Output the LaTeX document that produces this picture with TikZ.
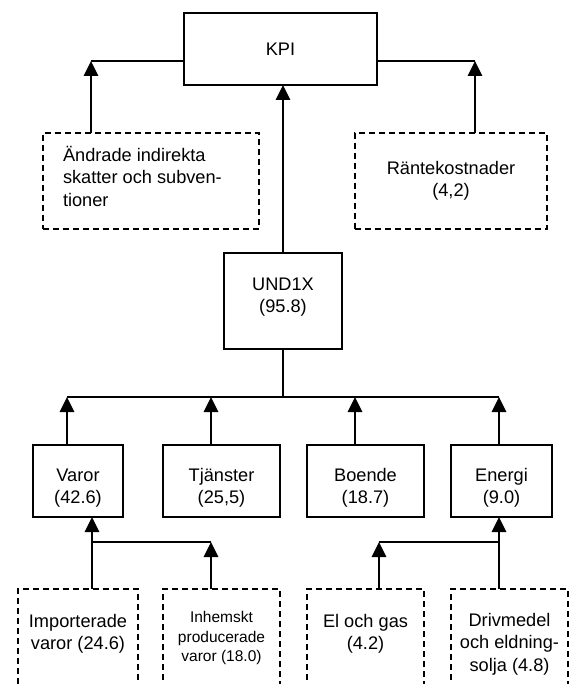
\documentclass[tikz,border=0pt]{standalone}
\usepackage{fontspec}
\setmainfont{Liberation Sans}
\usetikzlibrary{arrows.meta}
\begin{document}
\begin{tikzpicture}[x=1pt,y=-1pt,
  every node/.style={inner sep=0pt, outer sep=0pt},
  solidbox/.style={draw, line width=1.6pt, rectangle},
  dashbox/.style={draw, line width=1.6pt, rectangle, dash pattern=on 6pt off 4pt},
  lbl/.style={font=\fontsize{18.2}{22.5}\selectfont, align=center},
  small/.style={font=\fontsize{15.5}{19.5}\selectfont, align=center},
  link/.style={line width=1.6pt},
  arr/.style={line width=1.6pt, -{Triangle[width=14.5pt,length=15pt]}}]
\useasboundingbox (0,0) rectangle (577,684);
\begin{scope}
\clip (0,0) rectangle (577,684);

% top level
\node[solidbox, minimum width=193pt, minimum height=72pt] (kpi) at (280.5,49) {};
\node[lbl] (tkpi) at (280.5,49) {KPI};

\node[dashbox, minimum width=216pt, minimum height=96pt] (ind) at (151,181) {};
\node[lbl, align=left, anchor=west] (tind) at (63,176) {Ändrade indirekta\\skatter och subven-\\tioner};

\node[dashbox, minimum width=192pt, minimum height=96pt] (rant) at (451,181) {};
\node[lbl] (trant) at (451,181) {Räntekostnader\\(4,2)};

% UND1X
\node[solidbox, minimum width=118pt, minimum height=96pt] (und) at (283,301) {};
\node[lbl] (tund) at (283,297) {UND1X\\(95.8)};

% second row
\node[solidbox, minimum width=90pt, minimum height=72pt] (varor) at (78,481) {};
\node[lbl] (tvaror) at (78,488) {Varor\\(42.6)};
\node[solidbox, minimum width=117pt, minimum height=72pt] (tjan) at (221.5,481) {};
\node[lbl] (ttjan) at (221.5,488) {Tjänster\\(25,5)};
\node[solidbox, minimum width=117pt, minimum height=72pt] (boende) at (365.5,481) {};
\node[lbl] (tboende) at (365.5,488) {Boende\\(18.7)};
\node[solidbox, minimum width=101pt, minimum height=72pt] (energi) at (501.5,481) {};
\node[lbl] (tenergi) at (501.5,488) {Energi\\(9.0)};

% third row (continues below the page edge)
\node[dashbox, minimum width=120pt, minimum height=111pt] (imp) at (78,644.5) {};
\node[lbl] (timp) at (78,634) {Importerade\\varor (24.6)};
\node[dashbox, minimum width=117pt, minimum height=111pt] (inh) at (221.5,644.5) {};
\node[small] (tinh) at (221.5,638) {Inhemskt\\producerade\\varor (18.0)};
\node[dashbox, minimum width=117pt, minimum height=111pt] (el) at (365.5,644.5) {};
\node[lbl] (tel) at (365.5,634) {El och gas\\(4.2)};
\node[dashbox, minimum width=117pt, minimum height=111pt] (driv) at (509.5,644.5) {};
\node[lbl] (tdriv) at (509.5,644) {Drivmedel\\och eldning-\\solja (4.8)};

% junction points
\coordinate (cL) at (91,61);
\coordinate (cR) at (475,61);
\coordinate (b1) at (67,397);
\coordinate (b2) at (211,397);
\coordinate (b3) at (355,397);
\coordinate (b4) at (499,397);
\coordinate (v1) at (92,542);
\coordinate (v2) at (211,542);
\coordinate (e1) at (379,542);
\coordinate (e2) at (499,542);

% connectors into KPI
\draw[link] (kpi.west |- cL) -- (cL);
\draw[arr] (ind.north -| cL) -- (cL);
\draw[link] (kpi.east |- cR) -- (cR);
\draw[arr] (rant.north -| cR) -- (cR);
\draw[arr] (und.north) -- (kpi.south -| und.north);

% bus under UND1X
\draw[link] (und.south) -- (und.south |- b1);
\draw[link] (b1) -- (b4);
\draw[arr] (varor.north -| b1) -- (b1);
\draw[arr] (tjan.north -| b2) -- (b2);
\draw[arr] (boende.north -| b3) -- (b3);
\draw[arr] (energi.north -| b4) -- (b4);

% goods
\draw[arr] (imp.north -| v1) -- (varor.south -| v1);
\draw[link] (v1) -- (v2);
\draw[arr] (inh.north -| v2) -- (v2);

% energy
\draw[arr] (driv.north -| e2) -- (energi.south -| e2);
\draw[link] (e1) -- (e2);
\draw[arr] (el.north -| e1) -- (e1);
\end{scope}
\end{tikzpicture}
\end{document}
